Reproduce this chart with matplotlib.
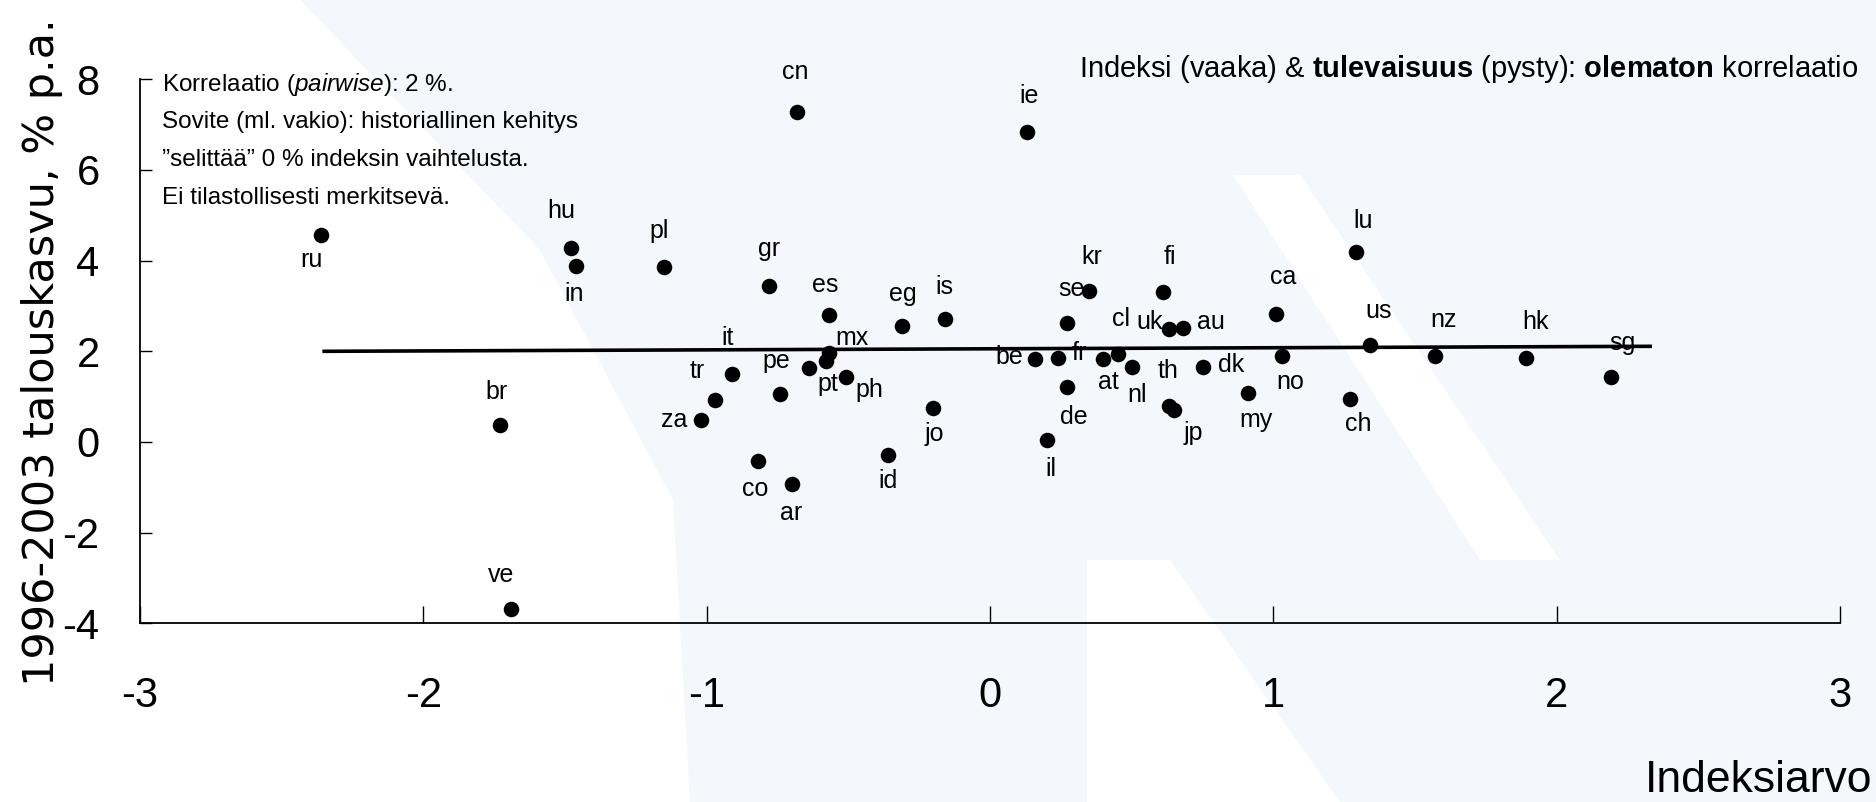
import matplotlib
matplotlib.use('Agg')
import matplotlib.pyplot as plt
from matplotlib import font_manager as fm
from matplotlib.patches import Polygon

# maat (tyhja nimi = piste ilman tunnusta)
maat = ['ru', 'hu', 'in', 'pl', 'cn', 'ie', 'gr', 'es', 'eg', 'is',
        'it', 'tr', 'za', 'pe', '', 'mx', 'pt', 'ph', 'jo', 'id',
        'co', 'ar', 'br', 've', 'il', 'de', 'be', 'fr', 'se', 'kr',
        'at', 'cl', 'nl', 'fi', 'uk', 'au', 'th', 'jp', 'dk', 'my',
        'ca', 'no', 'lu', 'us', 'ch', 'nz', 'hk', 'sg']
indeksi = [-2.36, -1.48, -1.46, -1.15, -0.68, 0.13, -0.78, -0.57, -0.31, -0.16,
           -0.91, -0.97, -1.02, -0.74, -0.64, -0.57, -0.58, -0.51, -0.20, -0.36,
           -0.82, -0.70, -1.73, -1.69, 0.20, 0.27, 0.16, 0.24, 0.27, 0.35,
           0.40, 0.45, 0.50, 0.61, 0.63, 0.68, 0.63, 0.65, 0.75, 0.91,
           1.01, 1.03, 1.29, 1.34, 1.27, 1.57, 1.89, 2.19]
kasvu = [4.57, 4.27, 3.89, 3.86, 7.28, 6.83, 3.43, 2.81, 2.56, 2.72,
         1.51, 0.92, 0.48, 1.05, 1.64, 1.96, 1.79, 1.44, 0.74, -0.29,
         -0.42, -0.93, 0.38, -3.69, 0.04, 1.22, 1.82, 1.86, 2.62, 3.33,
         1.83, 1.94, 1.66, 3.30, 2.49, 2.51, 0.79, 0.70, 1.66, 1.09,
         2.83, 1.89, 4.18, 2.13, 0.94, 1.90, 1.85, 1.43]

# sovite (ml. vakio)
sovite_x = [-2.35, 2.33]
sovite_y = [2.00, 2.11]

x_ticks = [-3, -2, -1, 0, 1, 2, 3]
y_ticks = [-4, -2, 0, 2, 4, 6, 8]

# tunnusten siirrot pikseleina (dx oikealle, dy alas)
siirto = {
    'ru': (-10, 25), 'hu': (-9, -37), 'in': (-2, 28), 'pl': (-5, -36),
    'cn': (-2, -40), 'ie': (2, -36), 'gr': (0, -37), 'es': (-3, -30),
    'eg': (1, -32), 'is': (0, -32), 'it': (-5, -36), 'tr': (-18, -29),
    'za': (-27, 0), 'pe': (-4, -33), 'mx': (23, -15), 'pt': (2, 23),
    'ph': (24, 13), 'jo': (1, 26), 'id': (0, 26), 'co': (-2, 28),
    'ar': (-1, 29), 'br': (-3, -33), 've': (-10, -34), 'il': (4, 29),
    'de': (7, 30), 'be': (-26, -2), 'fr': (21, -5), 'se': (5, -34),
    'kr': (3, -34), 'at': (5, 23), 'cl': (3, -35), 'nl': (5, 28),
    'fi': (7, -35), 'uk': (-19, -7), 'au': (28, -6), 'th': (0, -35),
    'jp': (19, 23), 'dk': (29, -2), 'my': (8, 27), 'ca': (7, -37),
    'no': (8, 26), 'lu': (8, -31), 'us': (9, -34), 'ch': (8, 25),
    'nz': (9, -36), 'hk': (10, -36), 'sg': (12, -34),
}


def pick_font(names):
    for n in names:
        try:
            fm.findfont(fm.FontProperties(family=n), fallback_to_default=False)
            return n
        except ValueError:
            pass
    return 'DejaVu Sans'


kapea = pick_font(['Liberation Sans Narrow', 'Liberation Sans'])
plt.rcParams['axes.unicode_minus'] = False
plt.rcParams['mathtext.fontset'] = 'custom'
plt.rcParams['mathtext.rm'] = kapea
plt.rcParams['mathtext.it'] = kapea + ':italic'
plt.rcParams['mathtext.bf'] = kapea + ':bold'

W, H = 1876, 802
fig = plt.figure(figsize=(W / 100, H / 100), dpi=100)
fig.patch.set_facecolor('#f4f7fb')

# taustan vesileima
bg = fig.add_axes([0, 0, 1, 1], zorder=0)
bg.set_xlim(0, W)
bg.set_ylim(H, 0)
bg.axis('off')
for pts in [[(0, 0), (300, 0), (540, 250), (673, 500), (690, H), (0, H)],
            [(1087, 560), (1170, 560), (1340, H), (1087, H)],
            [(1233, 175), (1300, 175), (1560, 560), (1480, 560)]]:
    bg.add_patch(Polygon(pts, closed=True, facecolor='white', edgecolor='none'))

ax = fig.add_axes([140 / W, 1 - 623.3 / H, 1700 / W, 544 / H], zorder=1)
ax.patch.set_alpha(0)

ax.plot(sovite_x, sovite_y, color='black', lw=2.6, zorder=2)
ax.scatter(indeksi, kasvu, s=125, color='black', linewidths=0, zorder=3)

for m, xx, yy in zip(maat, indeksi, kasvu):
    if not m:
        continue
    dx, dy = siirto[m]
    ax.annotate(m, (xx, yy), xytext=(dx, -dy), textcoords='offset pixels',
                ha='center', va='center', fontsize=18, family=kapea,
                zorder=4, annotation_clip=False)

ax.set_xlim(-3, 3)
ax.set_ylim(-4, 8)
ax.set_xticks(x_ticks)
ax.set_xticklabels([str(v) for v in x_ticks])
ax.set_yticks(y_ticks)
ax.set_yticklabels([str(v) for v in y_ticks])
for lab in ax.get_xticklabels() + ax.get_yticklabels():
    lab.set_family(kapea)
    lab.set_fontsize(30)
ax.tick_params(axis='x', direction='in', length=12, width=1, pad=38)
ax.tick_params(axis='y', direction='in', length=8.5, width=1, pad=29)
ax.spines['top'].set_visible(False)
ax.spines['right'].set_visible(False)
ax.spines['left'].set_linewidth(1.3)
ax.spines['bottom'].set_linewidth(1.3)

# akselien nimet
fig.text(42 / W, 1 - 352 / H, '1996-2003 talouskasvu, % p.a.', rotation=90,
         ha='center', va='center', fontsize=31, family='DejaVu Sans')
fig.text(1872 / W, 10 / H, 'Indeksiarvo', ha='right', va='baseline',
         fontsize=32, family=kapea)

# otsikko oikealla ylhaalla
fig.text(1858 / W, 1 - 69 / H,
         r'Indeksi (vaaka) & $\mathbf{tulevaisuus}$ (pysty): $\mathbf{olematon}$ korrelaatio',
         ha='right', va='center', fontsize=21, family=kapea)

# tekstilaatikko vasemmalla ylhaalla
rivit = [r'Korrelaatio ($\mathit{pairwise}$): 2 %.',
         'Sovite (ml. vakio): historiallinen kehitys',
         '\u201dselitt\u00e4\u00e4\u201d 0 % indeksin vaihtelusta.',
         'Ei tilastollisesti merkitsev\u00e4.']
for i, r in enumerate(rivit):
    fig.text(162 / W, 1 - (84 + 38 * i) / H, r, ha='left', va='center',
             fontsize=17.5, family=kapea)

fig.savefig('out.png', dpi=100, facecolor=fig.get_facecolor())
